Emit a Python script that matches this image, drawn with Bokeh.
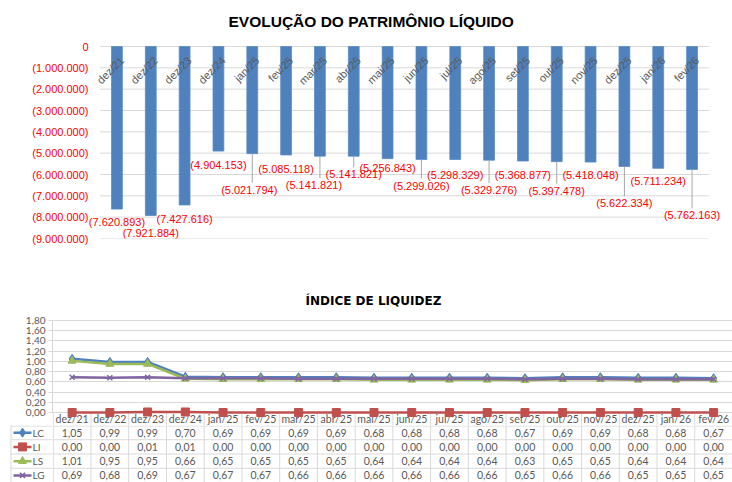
import math
from bokeh.plotting import figure
from bokeh.models import FactorRange, Range1d, FixedTicker, ColumnDataSource, LabelSet
from bokeh.layouts import column, row
from bokeh.embed import file_html
from bokeh.resources import INLINE
from bokeh.core.properties import value

# ---------------- data ----------------
categories = ["dez/21", "dez/22", "dez/23", "dez/24", "jan/25", "fev/25", "mar/25",
              "abr/25", "mai/25", "jun/25", "jul/25", "ago/25", "set/25", "out/25",
              "nov/25", "dez/25", "jan/26", "fev/26"]
patrimonio = [-7620893, -7921884, -7427616, -4904153, -5021794, -5085118, -5141821,
              -5141821, -5256843, -5299026, -5298329, -5329276, -5368877, -5397478,
              -5418048, -5622334, -5711234, -5762163]
pl_ticks = [0, -1000000, -2000000, -3000000, -4000000, -5000000, -6000000,
            -7000000, -8000000, -9000000]

series_names = ["LC", "LI", "LS", "LG"]
lc = [1.05, 0.99, 0.99, 0.70, 0.69, 0.69, 0.69, 0.69, 0.68, 0.68, 0.68, 0.68, 0.67, 0.69, 0.69, 0.68, 0.68, 0.67]
li = [0.00, 0.00, 0.01, 0.01, 0.00, 0.00, 0.00, 0.00, 0.00, 0.00, 0.00, 0.00, 0.00, 0.00, 0.00, 0.00, 0.00, 0.00]
ls = [1.01, 0.95, 0.95, 0.66, 0.65, 0.65, 0.65, 0.65, 0.64, 0.64, 0.64, 0.64, 0.63, 0.65, 0.65, 0.64, 0.64, 0.64]
lg = [0.69, 0.68, 0.69, 0.67, 0.67, 0.67, 0.66, 0.66, 0.66, 0.66, 0.66, 0.66, 0.65, 0.66, 0.66, 0.65, 0.65, 0.65]
liq_ticks = [0.0, 0.2, 0.4, 0.6, 0.8, 1.0, 1.2, 1.4, 1.6, 1.8]

# ---------------- layout / style ----------------
W = 732
RED = "#FF0000"
GRID = "#D9D9D9"
TXT = "#595959"
BLUE = "#4F81BD"
label_drop = [13, 17, 14, 14, 36, 14, 29, 18, 9, 26, 15, 30, 14, 29, 13, 37, 13, 46]
label_dx = [0, 0, 0, 0, -3, 0, -6, 0, 0, 0, 0, 0, 0, 0, 0, 0, 0, 0]
leader = [d > 17 for d in label_drop]


def fmt_pl(v):
    if v == 0:
        return "0"
    return "(" + f"{abs(v):,}".replace(",", ".") + ")"


def fmt_dec(v):
    return f"{v:.2f}".replace(".", ",")


# ---------------- top chart ----------------
upx = 9000000 / 192.0          # data units per pixel
top = figure(width=W, height=285,
             x_range=FactorRange(*categories, range_padding=0.4, range_padding_units="absolute"),
             y_range=Range1d(-9000000, 7 * upx),
             output_backend="svg", toolbar_location=None, frame_align=False,
             min_border_left=86, min_border_right=10, min_border_top=39, min_border_bottom=47)
top.title.text = "EVOLUÇÃO DO PATRIMÔNIO LÍQUIDO"
top.title.align = "left"
top.title.offset = 142
top.title.standoff = 19
top.title.text_font = "Liberation Sans"
top.title.text_font_size = "15.5px"
top.title.text_font_style = "bold"
top.title.text_color = "#000000"
top.outline_line_color = None
top.xaxis.visible = False
top.grid.grid_line_color = None
top.yaxis.ticker = FixedTicker(ticks=pl_ticks)
top.yaxis.major_label_overrides = {t: fmt_pl(t) for t in pl_ticks}
top.yaxis.axis_line_color = None
top.yaxis.major_tick_line_color = None
top.yaxis.major_tick_out = 0
top.yaxis.major_tick_in = 0
top.yaxis.minor_tick_line_color = None
top.yaxis.minor_tick_out = 0
top.yaxis.major_label_text_color = RED
top.yaxis.major_label_text_font = "Liberation Sans"
top.yaxis.major_label_text_font_size = "11px"
top.yaxis.major_label_standoff = -2

ncat = len(categories)
top.segment(x0=[0] * len(pl_ticks), y0=pl_ticks, x1=[ncat] * len(pl_ticks), y1=pl_ticks,
            line_color=GRID, line_width=1)

top.vbar(x=categories, top=patrimonio, bottom=0, width=0.32,
         fill_color=BLUE, line_color="#5B8BC6", line_width=0.8)

lead_x = [c for c, f in zip(categories, leader) if f]
lead_y0 = [v for v, f in zip(patrimonio, leader) if f]
lead_y1 = [v - (d - 7) * upx for v, d, f in zip(patrimonio, label_drop, leader) if f]
top.segment(x0=lead_x, y0=lead_y0, x1=lead_x, y1=lead_y1, line_color="#A6A6A6", line_width=1)

lab_src = ColumnDataSource(dict(x=categories, y=patrimonio,
                                text=[fmt_pl(v) for v in patrimonio],
                                dx=label_dx, dy=[-d for d in label_drop]))
top.add_layout(LabelSet(x="x", y="y", text="text", x_offset="dx", y_offset="dy",
                        source=lab_src, text_align="center", text_baseline="middle",
                        text_color=RED, text_font=value("Liberation Sans"),
                        text_font_size="11px"))

cat_src = ColumnDataSource(dict(x=categories, y=[0] * ncat, text=categories))
top.add_layout(LabelSet(x="x", y="y", text="text", source=cat_src, angle=math.pi / 4,
                        x_offset=5, y_offset=-12, text_align="right", text_baseline="middle",
                        text_color=TXT, text_font=value("Liberation Sans"),
                        text_font_size="11px"))

# ---------------- bottom chart (with table header row) ----------------
idx = list(range(ncat))
LEFT = 52
ppu = 92 / 1.8                 # pixels per unit
HDR = 13                       # header row height in px
XEND = ncat - 0.5
xr = Range1d(-0.52, XEND)
chart = figure(width=W, height=140, x_range=xr,
               y_range=Range1d(-HDR / ppu, 1.8 + 9 / ppu),
               output_backend="svg", toolbar_location=None, frame_align=False,
               min_border_left=LEFT, min_border_right=0, min_border_top=26, min_border_bottom=0)
chart.title.text = "ÍNDICE DE LIQUIDEZ"
chart.title.align = "left"
chart.title.offset = 253
chart.title.standoff = 7
chart.title.text_font = "DejaVu Sans"
chart.title.text_font_size = "12px"
chart.title.text_font_style = "bold"
chart.title.text_color = "#000000"
chart.outline_line_color = None
chart.xaxis.visible = False
chart.xgrid.grid_line_color = None
chart.ygrid.grid_line_color = GRID
chart.ygrid.ticker = FixedTicker(ticks=liq_ticks)
chart.yaxis.ticker = FixedTicker(ticks=liq_ticks)
chart.yaxis.bounds = (0, 1.8)
chart.yaxis.major_label_overrides = {t: fmt_dec(t) for t in liq_ticks}
chart.yaxis.axis_line_color = GRID
chart.yaxis.major_tick_line_color = GRID
chart.yaxis.major_tick_out = 4
chart.yaxis.major_tick_in = 0
chart.yaxis.minor_tick_line_color = None
chart.yaxis.minor_tick_out = 0
chart.yaxis.major_label_text_color = TXT
chart.yaxis.major_label_text_font = "Lato"
chart.yaxis.major_label_text_font_size = "10px"
chart.yaxis.major_label_standoff = 3

# header row of the data table (category names)
vx = [i - 0.5 for i in range(ncat + 1)]
chart.segment(x0=vx, y0=[0] * len(vx), x1=vx, y1=[-HDR / ppu] * len(vx), line_color=GRID)
chart.text(x=idx, y=[-6.5 / ppu] * ncat, text=categories, text_align="center",
           text_baseline="middle", text_color=TXT, text_font=value("Lato"),
           text_font_size="10.5px")

series = [lc, li, ls, lg]
colors = ["#4F81BD", "#C0504D", "#9BBB59", "#8064A2"]
markers = ["diamond", "square", "triangle", "x"]
msizes = [9, 8, 8, 7]
for ys, col, mk, ms in zip(series, colors, markers, msizes):
    chart.line(idx, ys, line_color=col, line_width=2.5)
    if mk == "x":
        chart.scatter(idx, ys, marker=mk, size=ms, line_color=col, line_width=1.5)
    else:
        chart.scatter(idx, ys, marker=mk, size=ms, fill_color=col, line_color=col)

# ---------------- table rows ----------------
ROW = 14.25
TH = 57
row_mid = [ROW * i + ROW / 2 for i in range(len(series_names))]

legend_fig = figure(width=LEFT, height=TH, x_range=Range1d(0, LEFT), y_range=Range1d(TH, 0),
                    output_backend="svg", toolbar_location=None, frame_align=False,
                    min_border_left=0, min_border_right=0, min_border_top=0, min_border_bottom=0)
table = figure(width=W - LEFT, height=TH, x_range=xr, y_range=Range1d(TH, 0),
               output_backend="svg", toolbar_location=None, frame_align=False,
               min_border_left=0, min_border_right=0, min_border_top=0, min_border_bottom=0)
for f in (legend_fig, table):
    f.axis.visible = False
    f.grid.grid_line_color = None
    f.outline_line_color = None

hy = [0.5] + [ROW * i for i in range(1, len(series_names) + 1)]
legend_fig.segment(x0=[10] * len(hy), y0=hy, x1=[LEFT] * len(hy), y1=hy, line_color=GRID)
legend_fig.segment(x0=[10.5], y0=[0], x1=[10.5], y1=[TH], line_color=GRID)
for ym, col, mk, ms, name in zip(row_mid, colors, markers, msizes, series_names):
    legend_fig.line([13, 31], [ym, ym], line_color=col, line_width=2.5)
    if mk == "x":
        legend_fig.scatter([22], [ym], marker=mk, size=ms, line_color=col, line_width=1.5)
    else:
        legend_fig.scatter([22], [ym], marker=mk, size=ms, fill_color=col, line_color=col)
legend_fig.text(x=[32] * len(series_names), y=row_mid, text=series_names,
                text_align="left", text_baseline="middle", text_color=TXT,
                text_font=value("Lato"), text_font_size="10px")

table.segment(x0=vx, y0=[0] * len(vx), x1=vx, y1=[TH] * len(vx), line_color=GRID)
table.segment(x0=[-0.52] * len(hy), y0=hy, x1=[XEND] * len(hy), y1=hy, line_color=GRID)
for ym, ys in zip(row_mid, series):
    table.text(x=idx, y=[ym] * ncat, text=[fmt_dec(v) for v in ys],
               text_align="center", text_baseline="middle", text_color=TXT,
               text_font=value("Lato"), text_font_size="10.5px")

layout = column(top, chart, row(legend_fig, table))
open("out.html", "w").write(file_html(layout, INLINE))
